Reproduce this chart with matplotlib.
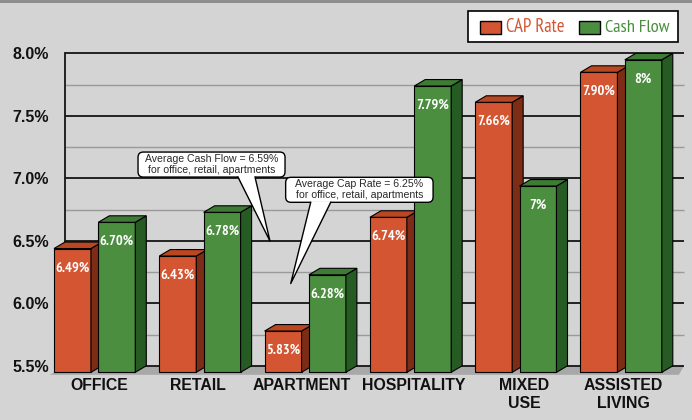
import numpy as np
import matplotlib
matplotlib.use('Agg')
import matplotlib.pyplot as plt
from matplotlib.patches import Polygon, Rectangle, FancyBboxPatch
from matplotlib import font_manager

categories = ['OFFICE', 'RETAIL', 'APARTMENT', 'HOSPITALITY', 'MIXED\nUSE', 'ASSISTED\nLIVING']
cap_rate = [6.49, 6.43, 5.83, 6.74, 7.66, 7.90]
cash_flow = [6.70, 6.78, 6.28, 7.79, 6.99, 8.00]
cap_labels = ['6.49%', '6.43%', '5.83%', '6.74%', '7.66%', '7.90%']
cash_labels = ['6.70%', '6.78%', '6.28%', '7.79%', '7%', '8%']
y_ticks = [5.5, 6.0, 6.5, 7.0, 7.5, 8.0]
y_tick_labels = ['5.5%', '6.0%', '6.5%', '7.0%', '7.5%', '8.0%']
legend_names = ['CAP Rate', 'Cash Flow']
avg_cash = 6.59
avg_cap = 6.25
avg_note = 'for office, retail, apartments'

# colours
BG = '#d4d4d5'
CAP = ('#d35532', '#7d2c15', '#bb4622')
CASH = ('#4b8e40', '#265b24', '#3e7b34')
FLOOR = '#a8a8a8'

plt.rcParams['font.family'] = ['Liberation Sans', 'DejaVu Sans']


def pick_font(prefs, bold):
    for name in prefs:
        for f in font_manager.fontManager.ttflist:
            if f.name == name and f.style == 'normal':
                w = f.weight if isinstance(f.weight, int) else 400
                if (w >= 600) == bold:
                    return name
    return 'Liberation Sans'


NARROW_FONTS = ['Liberation Sans Narrow', 'Arial Narrow', 'PT Sans Narrow', 'Roboto Condensed',
                'Fira Sans Condensed', 'IBM Plex Sans Condensed', 'Open Sans Condensed',
                'Archivo Narrow', 'Barlow Semi Condensed', 'Asap Condensed']
COND = pick_font(NARROW_FONTS, False)
COND_B = pick_font(NARROW_FONTS, True)

# geometry (pixels per data unit and 3d depth)
W_PX, H_PX = 692, 420
SX, SY = 105.3, 125.0
DX, DY = 11 / SX, 6.5 / SY
BASE = 5.5
XMIN, XMAX = -0.04, 5.88 + DX
YMIN, YMAX = 5.48, 8.0 + DY
BAR_W = 0.351
GAP = 0.421
label_shift = [0.425, 0.368, 0.355, 0.419, 0.463, 0.404]

ax_left = 54 + XMIN * SX
ax_top = 59.8 - DY * SY
ax_w = (XMAX - XMIN) * SX
ax_h = (YMAX - YMIN) * SY

fig = plt.figure(figsize=(W_PX / 100, H_PX / 100), dpi=100, facecolor=BG)
ax = fig.add_axes([ax_left / W_PX, 1 - (ax_top + ax_h) / H_PX, ax_w / W_PX, ax_h / H_PX])
ax.set_facecolor(BG)
ax.set_xlim(XMIN, XMAX)
ax.set_ylim(YMIN, YMAX)
for s in ax.spines.values():
    s.set_visible(False)
renderer = fig.canvas.get_renderer()


def fit_width(t, target):
    w = t.get_window_extent(renderer).width
    t.set_fontsize(t.get_fontsize() * target / w)


# back wall grid + floor
for v in np.arange(BASE, 8.01, 0.25):
    major = abs(v * 2 - round(v * 2)) < 1e-6
    ax.plot([DX, XMAX], [v + DY] * 2, color='#151515' if major else '#9a9a9a',
            lw=1.3 if major else 1.0, zorder=2, clip_on=False, solid_capstyle='butt')
ax.plot([DX, DX], [BASE + DY, 8.0 + DY], color='#151515', lw=1.3, zorder=2, clip_on=False)
ax.add_patch(Polygon([(XMIN, YMIN), (XMAX - 0.05, YMIN), (XMAX, BASE + DY), (DX, BASE + DY)],
                     fc=FLOOR, ec='none', zorder=1.5))


def bar3d(x0, v, cols, z):
    face, side, top = cols
    ax.bar(x0, v - BASE, width=BAR_W, bottom=BASE, align='edge', color=face,
           edgecolor='black', lw=0.8, zorder=z)
    x1 = x0 + BAR_W
    ax.add_patch(Polygon([(x1, BASE), (x1 + DX, BASE + DY), (x1 + DX, v + DY), (x1, v)],
                         fc=side, ec='black', lw=0.8, zorder=z))
    ax.add_patch(Polygon([(x0, v), (x1, v), (x1 + DX, v + DY), (x0 + DX, v + DY)],
                         fc=top, ec='black', lw=0.8, zorder=z))


def bar_label(x0, v, txt):
    return ax.annotate(txt, (x0 + BAR_W / 2, v), xytext=(0, -14), textcoords='offset points',
                       ha='center', va='center', color='white', fontsize=10, fontweight='bold',
                       family=[COND_B, 'DejaVu Sans'], zorder=30)


labels = []
for i in range(len(categories)):
    bar3d(i, cap_rate[i], CAP, 3 + 2 * i)
    bar3d(i + GAP, cash_flow[i], CASH, 4 + 2 * i)
    labels.append(bar_label(i, cap_rate[i], cap_labels[i]))
    labels.append(bar_label(i + GAP, cash_flow[i], cash_labels[i]))

# same size for every bar label, "6.49%" is about 34 px wide
fit_width(labels[0], 34)
for t in labels[1:]:
    t.set_fontsize(labels[0].get_fontsize())

# axis labels
ax.set_xticks([i + label_shift[i] for i in range(len(categories))], categories)
ax.set_yticks([v + DY for v in y_ticks], y_tick_labels)
ax.tick_params(axis='x', length=0, pad=2.5, labelsize=11.4)
ax.tick_params(axis='y', length=0, pad=0.5, labelsize=11.5)
for t in ax.get_xticklabels() + ax.get_yticklabels():
    t.set_fontweight('bold')
    t.set_color('#111111')


def callout(x0, x1, ybot, ytop, text, bx0, bx1, tip):
    box = FancyBboxPatch((x0, ybot), x1 - x0, ytop - ybot,
                         boxstyle='round,pad=0,rounding_size=0.05', mutation_aspect=SX / SY,
                         fc='white', ec='black', lw=1, zorder=40)
    ax.add_patch(box)
    eps = 1.2 / SY
    ax.add_patch(Polygon([(bx0, ybot + eps), tip, (bx1, ybot + eps)], fc='white', ec='none', zorder=41))
    ax.plot([bx0, tip[0], bx1], [ybot, tip[1], ybot], color='black', lw=1, zorder=42)
    ax.text((x0 + x1) / 2, (ybot + ytop) / 2, text, ha='center', va='center',
            fontsize=7.6, color='#2a2a2a', zorder=43, linespacing=1.15)


tip_drop = 0.04
callout(0.798, 2.194, 7.062, 7.262, f'Average Cash Flow = {avg_cash:.2f}%\n{avg_note}',
        1.747, 1.909, (2.051, avg_cash - tip_drop))
callout(2.200, 3.600, 6.860, 7.060, f'Average Cap Rate = {avg_cap:.2f}%\n{avg_note}',
        2.438, 2.628, (2.248, avg_cap - tip_drop))


# figure decorations in pixel coordinates
def fx(x):
    return x / W_PX


def fy(y):
    return 1 - y / H_PX


fig.add_artist(Rectangle((0, fy(2.5)), 1, 2.5 / H_PX, transform=fig.transFigure,
                         fc='#8e8e8e', ec='none'))
fig.add_artist(Rectangle((fx(468), fy(42)), 210 / W_PX, 31 / H_PX, transform=fig.transFigure,
                         fc='white', ec='black', lw=1.2))
for name, cols, px, target in zip(legend_names, (CAP, CASH), (479.5, 578.5), (59, 65)):
    fig.add_artist(Rectangle((fx(px), fy(34)), 21 / W_PX, 13.3 / H_PX, transform=fig.transFigure,
                             fc=cols[0], ec='black', lw=1))
    t = fig.text(fx(px + 26.5), fy(27.5), name, ha='left', va='center', fontsize=11.5,
                 color=cols[0], family=[COND, 'DejaVu Sans'])
    fit_width(t, target)

fig.savefig('out.png', dpi=100, facecolor=BG)
